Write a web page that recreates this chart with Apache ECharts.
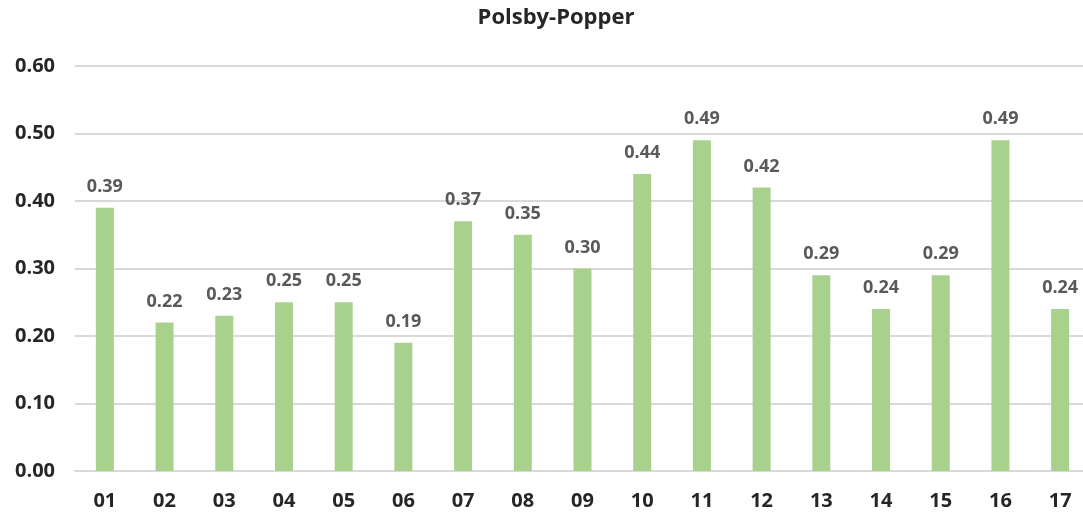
<!DOCTYPE html>
<html>
<head>
<meta charset="utf-8">
<script src="https://cdn.jsdelivr.net/npm/echarts@6/dist/echarts.min.js"></script>
<style>html,body{margin:0;padding:0;background:#fff;overflow:hidden;width:1083px;height:516px}#c{width:1090px;height:516px}</style>
</head>
<body>
<div id="c"></div>
<script>
const categories = ['01','02','03','04','05','06','07','08','09','10','11','12','13','14','15','16','17'];
const values = [0.39,0.22,0.23,0.25,0.25,0.19,0.37,0.35,0.30,0.44,0.49,0.42,0.29,0.24,0.29,0.49,0.24];
const yTicks = { min: 0, max: 0.6, interval: 0.1 };
const font = '"Open Sans", sans-serif';
const chart = echarts.init(document.getElementById('c'), null, { renderer: 'canvas' });
chart.setOption({
  animation: false,
  title: {
    text: 'Polsby-Popper', left: 551, top: 2, textAlign: 'center',
    textStyle: { fontFamily: font, fontWeight: 'bold', fontSize: 22, color: '#262626' }
  },
  grid: { left: 75, top: 66, right: 0, bottom: 45, containLabel: false },
  xAxis: {
    type: 'category', data: categories,
    axisTick: { show: false },
    axisLine: { lineStyle: { color: '#d9d9d9', width: 2 } },
    axisLabel: { fontFamily: font, fontWeight: 'bold', fontSize: 20, color: '#262626', margin: 20 }
  },
  yAxis: {
    type: 'value', min: yTicks.min, max: yTicks.max, interval: yTicks.interval,
    axisLine: { show: false }, axisTick: { show: false },
    splitLine: { lineStyle: { color: '#d9d9d9', width: 2 } },
    axisLabel: { fontFamily: font, fontWeight: 'bold', fontSize: 20, color: '#262626', margin: 20,
      formatter: v => v.toFixed(2) }
  },
  series: [{
    type: 'bar', data: values, barWidth: 18,
    itemStyle: { color: '#a9d18e' },
    label: { show: true, position: 'top', distance: 12, fontFamily: font, fontWeight: 'bold', fontSize: 18, color: '#595959',
      formatter: p => p.value.toFixed(2) }
  }]
});
</script>
</body>
</html>
